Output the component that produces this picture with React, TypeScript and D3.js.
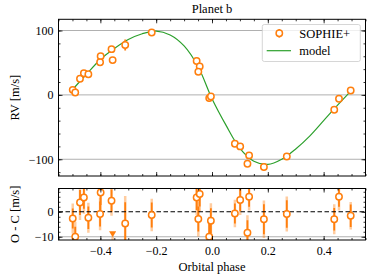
import * as d3 from "d3";
import React, { useEffect, useRef } from "react";

// SOPHIE+ measurements, phase-folded
const phase = [-0.499, -0.49, -0.473, -0.459, -0.443, -0.399, -0.401, -0.36, -0.356, -0.311, -0.216, -0.055, -0.044, -0.049, -0.01, -0.004, 0.082, 0.101, 0.133, 0.127, 0.186, 0.268, 0.438, 0.455, 0.497];
const rv = [7.8, 3.6, 25, 33.6, 32, 60, 50.6, 71, 54, 77.5, 97, 52.7, 44, 36, -5, -2.6, -76, -80, -94, -107, -112, -95.6, -23, -6, 6.7];
const resid = [-2.7, -10, 3.7, 5.7, -2.4, 7.7, -0.9, 4.4, -17, -4.7, -1.3, 5.7, 7.1, -2.9, -10, -3.6, -0.7, 4.7, 6, -8.4, -3, -0.9, -3, 6, -1.6];
const errDark = [4, 4, 5, 4.5, 4.5, 5, 5, 4.5, 5, 8.5, 5, 5, 5, 5, 6, 5, 4, 4.5, 4, 5, 6, 5.5, 4.5, 4, 4.5];
const errLight = [6, 6, 7, 6.5, 6, 7, 6.5, 6, 7, 11, 6.5, 7, 7, 7, 8, 7, 5.5, 6, 5.5, 7, 7.5, 7, 6, 5.5, 5.5];

// out-of-range residual marker
const arrowPhase = [-0.356];
const arrowValue = [-8.6];

// keplerian model
const modelPhase = [-0.5, -0.45, -0.4, -0.35, -0.3, -0.25, -0.2, -0.15, -0.1, -0.05, 0, 0.05, 0.1, 0.15, 0.2, 0.25, 0.3, 0.35, 0.4, 0.45, 0.5];
const modelRv = [8, 32, 55, 72, 86, 95, 99, 93, 76, 44, -6, -47, -83, -103, -108, -100, -84, -64, -40, -16, 7];

const xTicks = [-0.4, -0.2, 0, 0.2, 0.4];
const rvTicks = [-100, 0, 100];
const ocTicks = [-10, 0];

const ORANGE = "#ff7f0e";
const GREEN = "#2ca02c";
const FONT = "Liberation Serif, DejaVu Serif, serif";

const App: React.FC = () => {
    const svgRef = useRef<SVGSVGElement>(null);

    useEffect(() => {
        const svg = d3.select(svgRef.current);
        svg.selectAll("*").remove();

        const left = 58.5, right = 365.5;
        const topY = [19.3, 176];
        const botY = [188.5, 240];

        const x = d3.scaleLinear().domain([-0.55, 0.55]).range([left, right]);
        const yTop = d3.scaleLinear().domain([-126, 117.4]).range([topY[1], topY[0]]);
        const yBot = d3.scaleLinear().domain([-11.3, 9.3]).range([botY[1], botY[0]]);

        const defs = svg.append("defs");
        defs.append("clipPath").attr("id", "clipTop").append("rect")
            .attr("x", left).attr("y", topY[0]).attr("width", right - left).attr("height", topY[1] - topY[0]);
        defs.append("clipPath").attr("id", "clipBot").append("rect")
            .attr("x", left).attr("y", botY[0]).attr("width", right - left).attr("height", botY[1] - botY[0]);

        const idx = d3.range(phase.length);
        const xMinor = d3.range(-0.55, 0.551, 0.05).map(v => Math.round(v * 100) / 100);

        function drawAxes(y: d3.ScaleLinear<number, number>, yMajor: number[], yMinor: number[], y0: number, y1: number, showX: boolean) {
            const g = svg.append("g");
            const axes: [any, number, boolean][] = [
                [d3.axisBottom, y1, showX],
                [d3.axisTop, y0, false],
            ];
            axes.forEach(([fn, ty, labels]) => {
                g.append("g").attr("transform", `translate(0,${ty})`)
                    .call(fn(x).tickValues(xMinor).tickSize(-2).tickFormat(() => ""))
                    .call((s: any) => s.select(".domain").remove());
                g.append("g").attr("transform", `translate(0,${ty})`)
                    .call(fn(x).tickValues(xTicks).tickSize(-4).tickPadding(6)
                        .tickFormat(labels ? (d3.format(".1f") as any) : () => ""))
                    .call((s: any) => s.select(".domain").remove());
            });
            [[d3.axisLeft, left, true], [d3.axisRight, right, false]].forEach(([fn, tx, labels]: any) => {
                g.append("g").attr("transform", `translate(${tx},0)`)
                    .call(fn(y).tickValues(yMinor).tickSize(-2).tickFormat(() => ""))
                    .call((s: any) => s.select(".domain").remove());
                g.append("g").attr("transform", `translate(${tx},0)`)
                    .call(fn(y).tickValues(yMajor).tickSize(-4).tickPadding(5)
                        .tickFormat(labels ? (d3.format("d") as any) : () => ""))
                    .call((s: any) => s.select(".domain").remove());
            });
            g.selectAll("text").attr("font-size", 12).attr("fill", "#000").style("font-family", FONT);
            g.selectAll("line").attr("stroke", "#000").attr("stroke-width", 0.8);
            g.append("rect").attr("x", left).attr("y", y0).attr("width", right - left).attr("height", y1 - y0)
                .attr("fill", "none").attr("stroke", "#000").attr("stroke-width", 1);
        }

        // ---------- top panel ----------
        const top = svg.append("g").attr("clip-path", "url(#clipTop)");
        top.selectAll(".grid").data(rvTicks).enter().append("line")
            .attr("x1", left).attr("x2", right)
            .attr("y1", d => yTop(d)).attr("y2", d => yTop(d))
            .attr("stroke", "#b0b0b0").attr("stroke-width", 1);

        const model = d3.line<number>()
            .x(i => x(modelPhase[i]))
            .y(i => yTop(modelRv[i]))
            .curve(d3.curveCatmullRom);
        top.append("path").datum(d3.range(modelPhase.length))
            .attr("d", model).attr("fill", "none").attr("stroke", GREEN).attr("stroke-width", 1.2);

        top.selectAll(".ed").data(idx).enter().append("line")
            .attr("x1", i => x(phase[i])).attr("x2", i => x(phase[i]))
            .attr("y1", i => yTop(rv[i] - errDark[i])).attr("y2", i => yTop(rv[i] + errDark[i]))
            .attr("stroke", ORANGE).attr("stroke-width", 1.8);
        top.selectAll(".pt").data(idx).enter().append("circle")
            .attr("cx", i => x(phase[i])).attr("cy", i => yTop(rv[i])).attr("r", 3.2)
            .attr("fill", "#fff").attr("stroke", ORANGE).attr("stroke-width", 1.5);

        drawAxes(yTop, rvTicks, d3.range(-120, 117, 20), topY[0], topY[1], false);

        // ---------- residual panel ----------
        const bot = svg.append("g").attr("clip-path", "url(#clipBot)");
        bot.append("line").attr("x1", left).attr("x2", right)
            .attr("y1", yBot(-10)).attr("y2", yBot(-10))
            .attr("stroke", "#b0b0b0").attr("stroke-width", 1);

        bot.selectAll(".el").data(idx).enter().append("line")
            .attr("x1", i => x(phase[i])).attr("x2", i => x(phase[i]))
            .attr("y1", i => yBot(resid[i] - errLight[i])).attr("y2", i => yBot(resid[i] + errLight[i]))
            .attr("stroke", ORANGE).attr("stroke-opacity", 0.4).attr("stroke-width", 2.5);
        bot.selectAll(".ed").data(idx).enter().append("line")
            .attr("x1", i => x(phase[i])).attr("x2", i => x(phase[i]))
            .attr("y1", i => yBot(resid[i] - errDark[i])).attr("y2", i => yBot(resid[i] + errDark[i]))
            .attr("stroke", ORANGE).attr("stroke-width", 1.8);

        bot.append("line").attr("x1", left).attr("x2", right)
            .attr("y1", yBot(0)).attr("y2", yBot(0))
            .attr("stroke", "#000").attr("stroke-width", 1.2).attr("stroke-dasharray", "4.5,2.5");

        bot.selectAll(".pt").data(idx).enter().append("circle")
            .attr("cx", i => x(phase[i])).attr("cy", i => yBot(resid[i])).attr("r", 3.2)
            .attr("fill", "#fff").attr("stroke", ORANGE).attr("stroke-width", 1.5);

        const tri = d3.symbol().type(d3.symbolTriangle).size(22);
        bot.selectAll(".arrow").data(arrowPhase).enter().append("path")
            .attr("d", tri)
            .attr("transform", (d, i) => `translate(${x(d)},${yBot(arrowValue[i])}) rotate(180)`)
            .attr("fill", ORANGE);

        drawAxes(yBot, ocTicks, d3.range(-10, 9.3, 2), botY[0], botY[1], true);

        // ---------- legend ----------
        const lg = svg.append("g").style("font-family", FONT);
        lg.append("rect").attr("x", 262.3).attr("y", 24.5).attr("width", 98).attr("height", 37).attr("rx", 2)
            .attr("fill", "#fff").attr("fill-opacity", 0.8).attr("stroke", "#cccccc").attr("stroke-width", 0.8);
        lg.append("line").attr("x1", 279.3).attr("x2", 279.3).attr("y1", 29).attr("y2", 37.6)
            .attr("stroke", ORANGE).attr("stroke-width", 1.8);
        lg.append("circle").attr("cx", 279.3).attr("cy", 33.3).attr("r", 3.2)
            .attr("fill", "#fff").attr("stroke", ORANGE).attr("stroke-width", 1.5);
        lg.append("line").attr("x1", 266.7).attr("x2", 291).attr("y1", 50.7).attr("y2", 50.7)
            .attr("stroke", GREEN).attr("stroke-width", 1.2);
        lg.append("text").attr("x", 299.3).attr("y", 37.5).attr("font-size", 12.5).text("SOPHIE+");
        lg.append("text").attr("x", 299.3).attr("y", 54.5).attr("font-size", 12.5).text("model");

        // ---------- titles ----------
        const t = svg.append("g").style("font-family", FONT).attr("fill", "#000").attr("text-anchor", "middle");
        t.append("text").attr("x", (left + right) / 2).attr("y", 12.5).attr("font-size", 12.5).text("Planet b");
        t.append("text").attr("x", (left + right) / 2).attr("y", 271).attr("font-size", 12.5).text("Orbital phase");
        t.append("text").attr("transform", `translate(19,${(topY[0] + topY[1]) / 2}) rotate(-90)`)
            .attr("font-size", 12.5).text("RV [m/s]");
        t.append("text").attr("transform", `translate(19,${(botY[0] + botY[1]) / 2}) rotate(-90)`)
            .attr("font-size", 12.5).text("O - C [m/s]");
    }, []);

    return (
        <svg
            ref={svgRef}
            width={370}
            height={277}
            style={{ position: "absolute", left: 0, top: 0, background: "#fff" }}
        ></svg>
    );
};

export default App;
